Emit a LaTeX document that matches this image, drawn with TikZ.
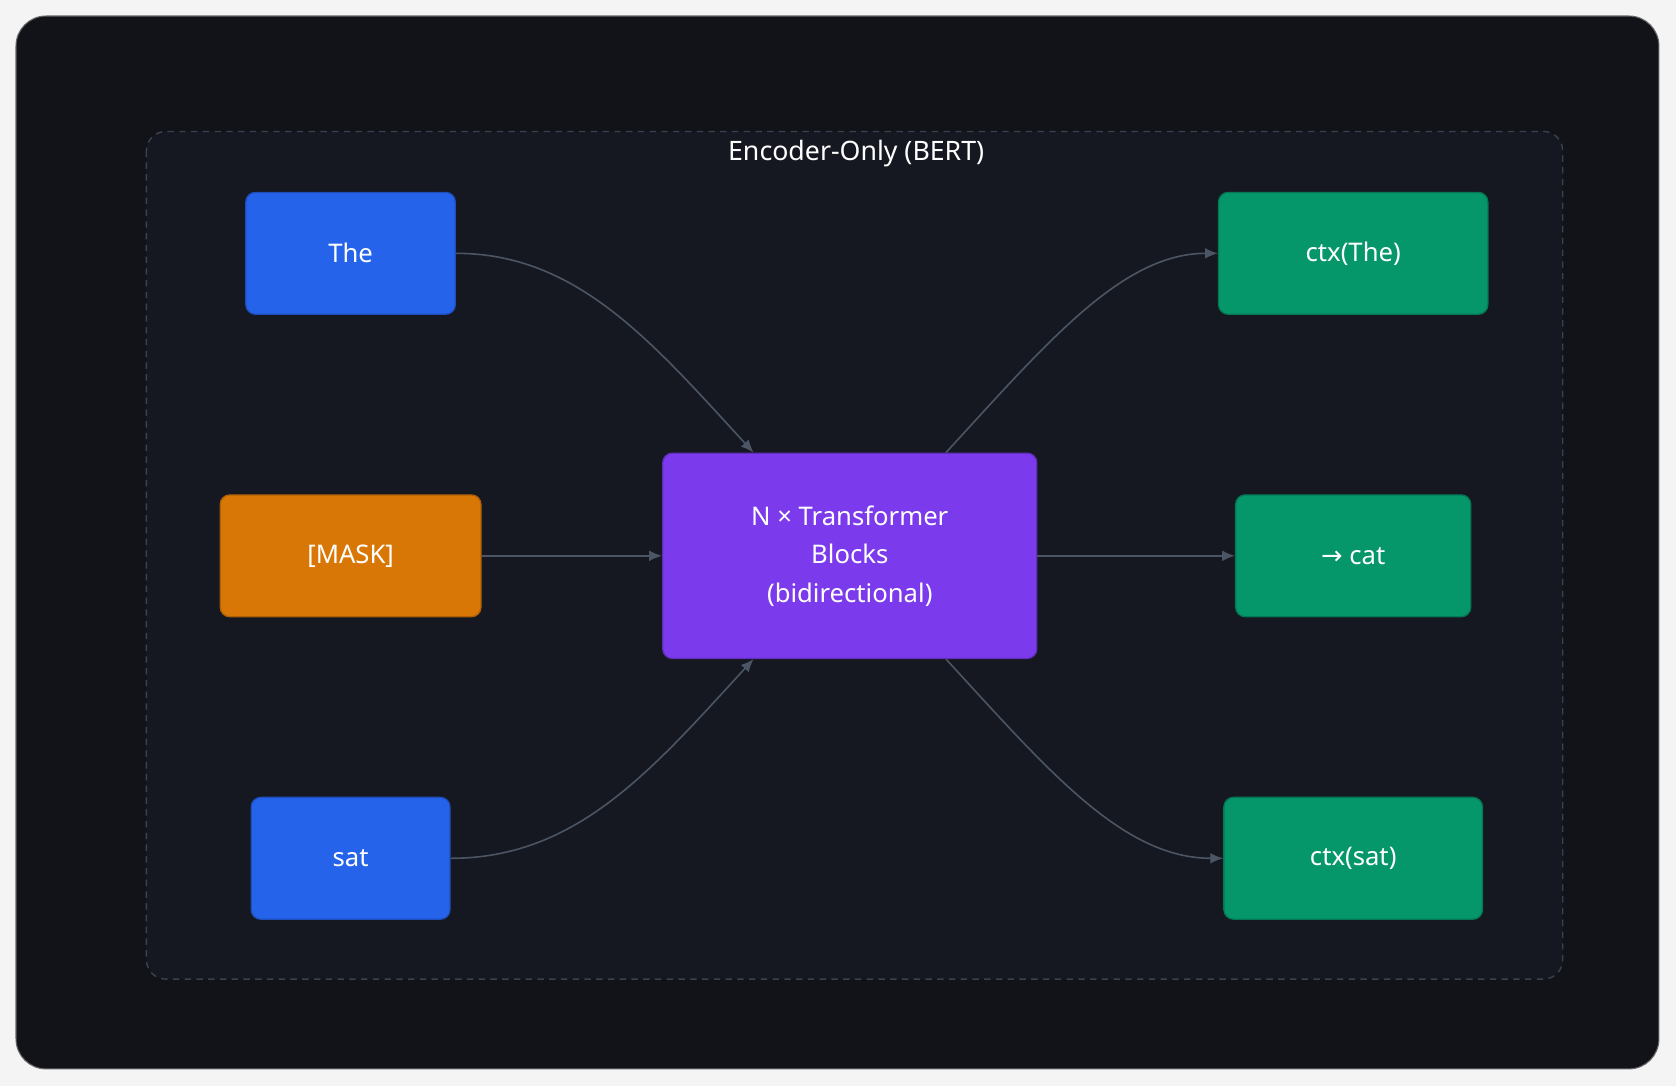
\documentclass[tikz,border=0pt]{standalone}
\usepackage{fontspec}
\setmainfont{Noto Sans}
\newfontfamily\dv{DejaVu Sans}
\usetikzlibrary{arrows.meta}
\definecolor{bgo}{HTML}{F4F4F5}
\definecolor{panel}{HTML}{111318}
\definecolor{cont}{HTML}{161821}
\definecolor{contb}{HTML}{3A4150}
\definecolor{edge}{HTML}{4B5563}
\definecolor{cblue}{HTML}{2563EB}
\definecolor{corange}{HTML}{D97706}
\definecolor{cpurple}{HTML}{7C3AED}
\definecolor{cgreen}{HTML}{059669}
\tikzset{
 box/.style={rounded corners=9pt, minimum height=114pt, text=white, font=\fontsize{24}{36}\selectfont, align=center, line width=1.2pt},
 blue/.style={box, fill=cblue, draw=cblue!80!black},
 orange/.style={box, fill=corange, draw=corange!80!black},
 green/.style={box, fill=cgreen, draw=cgreen!80!black},
 purple/.style={box, fill=cpurple, draw=cpurple!80!black},
 conn/.style={draw=edge, line width=1.5pt, -{Latex[length=12pt,width=10pt]}}
}
\begin{document}
\begin{tikzpicture}[x=1pt,y=-1pt]
\useasboundingbox (0,0) rectangle (1568,1016);
\fill[bgo] (0,0) rectangle (1568,1016);
\fill[panel, draw=black!60, line width=1pt, rounded corners=28pt] (15,15) rectangle (1552,1000);
\draw[fill=cont, draw=contb, dashed, dash pattern=on 6pt off 5pt, line width=1.3pt, rounded corners=18pt] (137,123) rectangle (1462,916);
\node[text=white, font=\bfseries\fontsize{25}{30}\selectfont] (title) at (801,144) {Encoder-Only (BERT)};
\node[blue, minimum width=196pt] (the) at (328,237) {The};
\node[orange, minimum width=244pt] (mask) at (328,520) {[MASK]};
\node[blue, minimum width=186pt] (sat) at (328,803) {sat};
\node[purple, minimum width=350pt, minimum height=192pt] (tb) at (795,520) {N × Transformer\\Blocks\\(bidirectional)};
\node[green, minimum width=252pt] (cthe) at (1266,237) {ctx(The)};
\node[green, minimum width=220pt] (cat) at (1266,520) {{\dv →} cat};
\node[green, minimum width=242pt] (csat) at (1266,803) {ctx(sat)};
\draw[conn] (the.east) .. controls (540,237) and (610,320) .. (tb.north -| 705,0);
\draw[conn] (mask.east) -- (tb.west);
\draw[conn] (sat.east) .. controls (540,803) and (610,720) .. (tb.south -| 705,0);
\draw[conn] (tb.north -| 885,0) .. controls (980,320) and (1050,237) .. (cthe.west);
\draw[conn] (tb.east) -- (cat.west);
\draw[conn] (tb.south -| 885,0) .. controls (980,720) and (1050,803) .. (csat.west);
\end{tikzpicture}
\end{document}
